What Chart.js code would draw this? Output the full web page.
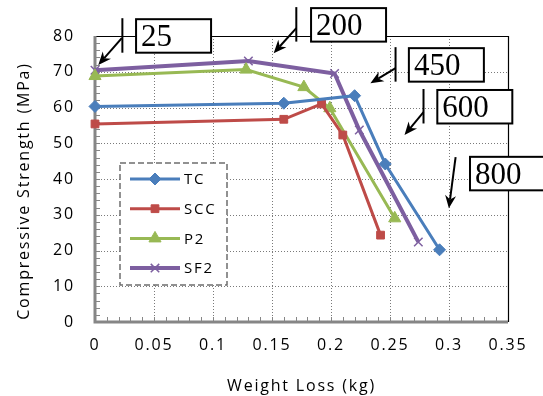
<!DOCTYPE html>
<html>
<head>
<meta charset="utf-8">
<script src="https://cdn.jsdelivr.net/npm/chart.js@4.4.1/dist/chart.umd.min.js"></script>
<style>
  html, body { margin:0; padding:0; background:#fff; }
  #wrap { width:543px; height:396px; }
</style>
</head>
<body>
<div id="wrap"><canvas id="chart"></canvas></div>
<script>
// values (weight loss in kg, strength in MPa)
const seriesNames = ['TC', 'SCC', 'P2', 'SF2'];
const tcLoss      = [0, 0.160, 0.220, 0.246, 0.292];
const tcStrength  = [60.3, 61.2, 63.3, 44.2, 20.2];
const sccLoss     = [0, 0.160, 0.192, 0.210, 0.242];
const sccStrength = [55.4, 56.7, 61.0, 52.3, 24.3];
const p2Loss      = [0, 0.128, 0.177, 0.199, 0.254];
const p2Strength  = [68.8, 70.6, 65.7, 59.8, 29.0];
const sf2Loss     = [0, 0.130, 0.203, 0.224, 0.274];
const sf2Strength = [70.4, 73.0, 69.5, 53.7, 22.4];
const calloutTexts = ['25', '200', '450', '600', '800'];

// callout placement, in axis units
const callouts = [
  { box:[0.0348, 84.7], bar:0.0232, tail:[0.0227, 79.4], tip:[0.0028, 71.9] },
  { box:[0.1831, 87.8], bar:0.1706, tail:[0.1706, 82.2], tip:[0.1514, 75.2] },
  { box:[0.2660, 76.6], bar:0.2547, tail:[0.2547, 71.0], tip:[0.2334, 66.8] },
  { box:[0.2901, 64.9], bar:0.2784, tail:[0.2784, 58.7], tip:[0.2623, 52.3] },
  { box:[0.3178, 46.2], bar:null,   tail:[0.3056, 46.1], tip:[0.2999, 31.8] }
];

const pts = (xs, ys) => xs.map((x, i) => ({ x, y: ys[i] }));
const SPACING = '1.8px';
const FONT = '"Open Sans", sans-serif';

const ds = (label, xs, ys, color, style, r, lw, bw) => ({
  label, data: pts(xs, ys), borderColor: color, backgroundColor: color,
  pointBackgroundColor: color, pointBorderColor: color,
  pointStyle: style, pointRadius: r, pointBorderWidth: bw, borderWidth: lw,
  showLine: true, tension: 0, clip: false
});

const datasets = [
  ds(seriesNames[0], tcLoss, tcStrength, '#4a7ebb', 'rectRot', 6, 3, 1),
  ds(seriesNames[1], sccLoss, sccStrength, '#be4b48', 'rect', 5.5, 3, 1),
  ds(seriesNames[2], p2Loss, p2Strength, '#98b954', 'triangle', 7, 3, 1),
  ds(seriesNames[3], sf2Loss, sf2Strength, '#7d5fa0', 'crossRot', 6, 4, 1.5)
];

function spacing(chart) { chart.ctx.letterSpacing = SPACING; }

const framePlugin = {
  id: 'frame',
  beforeUpdate: spacing,
  beforeDraw: spacing,
  beforeDatasetsDraw(chart) {
    const { ctx, chartArea: a, scales: { x, y } } = chart;
    ctx.save();
    // dotted grid
    ctx.strokeStyle = '#7a7a7a'; ctx.lineWidth = 1; ctx.setLineDash([1, 2]);
    ctx.beginPath();
    for (let v = 10; v < 80; v += 10) {
      const py = Math.round(y.getPixelForValue(v)) + 0.5;
      ctx.moveTo(a.left, py); ctx.lineTo(a.right, py);
    }
    for (let k = 1; k < 7; k++) {
      const px = Math.round(x.getPixelForValue(k * 0.05)) + 0.5;
      ctx.moveTo(px, a.top); ctx.lineTo(px, a.bottom);
    }
    ctx.stroke();
    ctx.setLineDash([]);
    // top and right border
    ctx.strokeStyle = '#000'; ctx.lineWidth = 1.2;
    ctx.beginPath();
    ctx.moveTo(a.left, a.top + 0.5); ctx.lineTo(a.right + 0.5, a.top + 0.5);
    ctx.lineTo(a.right + 0.5, a.bottom);
    ctx.stroke();
    // inward minor ticks
    ctx.strokeStyle = '#868686'; ctx.lineWidth = 1;
    ctx.beginPath();
    for (let v = 2; v < 80; v += 2) {
      const py = Math.round(y.getPixelForValue(v)) + 0.5;
      ctx.moveTo(a.left, py); ctx.lineTo(a.left + 5, py);
    }
    for (let k = 1; k < 35; k++) {
      const px = Math.round(x.getPixelForValue(k / 100)) + 0.5;
      ctx.moveTo(px, a.bottom); ctx.lineTo(px, a.bottom - 5);
    }
    ctx.stroke();
    // axis lines
    ctx.strokeStyle = '#868686'; ctx.lineWidth = 3;
    ctx.beginPath();
    ctx.moveTo(a.left, a.top); ctx.lineTo(a.left, a.bottom);
    ctx.lineTo(a.right, a.bottom);
    ctx.stroke();
    // y axis title
    ctx.save();
    ctx.translate(24, (a.top + a.bottom) / 2 + 12);
    ctx.rotate(-Math.PI / 2);
    ctx.font = '16px ' + FONT; ctx.fillStyle = '#000';
    ctx.textAlign = 'center'; ctx.textBaseline = 'middle';
    ctx.letterSpacing = SPACING;
    ctx.fillText('Compressive Strength (MPa)', 0, 0);
    ctx.restore();
    ctx.restore();
  },
  afterDraw(chart) {
    const { ctx, chartArea: a, scales: { x, y } } = chart;
    ctx.save();
    // legend
    const lx = a.left + 25, ly = a.top + 127, lw = 107, lh = 122;
    ctx.fillStyle = '#fff';
    ctx.fillRect(lx, ly, lw, lh);
    ctx.setLineDash([6, 3]); ctx.strokeStyle = '#6e6e6e'; ctx.lineWidth = 1.5;
    ctx.strokeRect(lx, ly, lw, lh);
    ctx.setLineDash([]);
    ctx.font = '15px ' + FONT; ctx.textBaseline = 'middle'; ctx.textAlign = 'left';
    ctx.letterSpacing = SPACING;
    chart.data.datasets.forEach((d, i) => {
      const cy = ly + 16 + i * 29.7;
      ctx.strokeStyle = d.borderColor; ctx.lineWidth = d.borderWidth;
      ctx.beginPath(); ctx.moveTo(lx + 10, cy); ctx.lineTo(lx + 60, cy); ctx.stroke();
      ctx.fillStyle = d.pointBackgroundColor; ctx.strokeStyle = d.pointBorderColor;
      ctx.lineWidth = d.pointBorderWidth;
      Chart.helpers.drawPoint(ctx, { pointStyle: d.pointStyle, radius: d.pointRadius, rotation: 0, borderWidth: d.pointBorderWidth }, lx + 35, cy);
      ctx.fillStyle = '#000';
      ctx.fillText(d.label, lx + 64, cy + 1);
    });
    // callouts
    ctx.letterSpacing = '0px';
    ctx.font = '31px "Liberation Serif", "Times New Roman", serif';
    ctx.textBaseline = 'middle';
    const bw = 75, bh = 33.5;
    callouts.forEach((c, i) => {
      const bx = x.getPixelForValue(c.box[0]), by = y.getPixelForValue(c.box[1]);
      ctx.fillStyle = '#fff'; ctx.fillRect(bx, by, bw, bh);
      ctx.strokeStyle = '#000'; ctx.lineWidth = 2;
      ctx.strokeRect(bx, by, bw, bh);
      ctx.fillStyle = '#000';
      ctx.fillText(calloutTexts[i], bx + 5, by + bh / 2 + 2);
      ctx.lineWidth = 2;
      if (c.bar !== null) {
        const px = x.getPixelForValue(c.bar);
        ctx.beginPath(); ctx.moveTo(px, by - 1); ctx.lineTo(px, by + bh); ctx.stroke();
      }
      const tx = x.getPixelForValue(c.tail[0]), ty = y.getPixelForValue(c.tail[1]);
      const hx = x.getPixelForValue(c.tip[0]), hy = y.getPixelForValue(c.tip[1]);
      const ang = Math.atan2(hy - ty, hx - tx);
      const L = 13, W = 5.5;
      const bxp = hx - Math.cos(ang) * L, byp = hy - Math.sin(ang) * L;
      ctx.beginPath(); ctx.moveTo(tx, ty); ctx.lineTo(bxp + Math.cos(ang) * 4, byp + Math.sin(ang) * 4); ctx.stroke();
      ctx.beginPath();
      ctx.moveTo(hx, hy);
      ctx.lineTo(bxp - Math.sin(ang) * W, byp + Math.cos(ang) * W);
      ctx.lineTo(bxp + Math.cos(ang) * 4, byp + Math.sin(ang) * 4);
      ctx.lineTo(bxp + Math.sin(ang) * W, byp - Math.cos(ang) * W);
      ctx.closePath(); ctx.fill();
    });
    ctx.restore();
  }
};

new Chart(document.getElementById('chart'), {
  type: 'scatter',
  data: { datasets },
  plugins: [framePlugin],
  options: {
    responsive: true, maintainAspectRatio: false, animation: false,
    layout: { padding: { top: 36, right: 35, left: 0, bottom: 0 } },
    plugins: { legend: { display: false }, tooltip: { enabled: false } },
    scales: {
      x: {
        type: 'linear', min: 0, max: 0.35,
        afterFit: s => { s.height = 74; },
        ticks: { stepSize: 0.05, padding: 14, color: '#000', font: { family: FONT, size: 16 }, maxRotation: 0,
                 callback: v => String(Math.round(v * 100) / 100) },
        grid: { display: false, drawTicks: false },
        border: { display: false },
        title: { display: true, text: 'Weight Loss (kg)', color: '#000', font: { family: FONT, size: 16 }, padding: { top: 3, bottom: 0 } }
      },
      y: {
        min: 0, max: 80,
        afterFit: s => { s.width = 95; },
        ticks: { stepSize: 10, padding: 20, color: '#000', font: { family: FONT, size: 16 } },
        grid: { display: false, drawTicks: false },
        border: { display: false }
      }
    }
  }
});
</script>
</body>
</html>
